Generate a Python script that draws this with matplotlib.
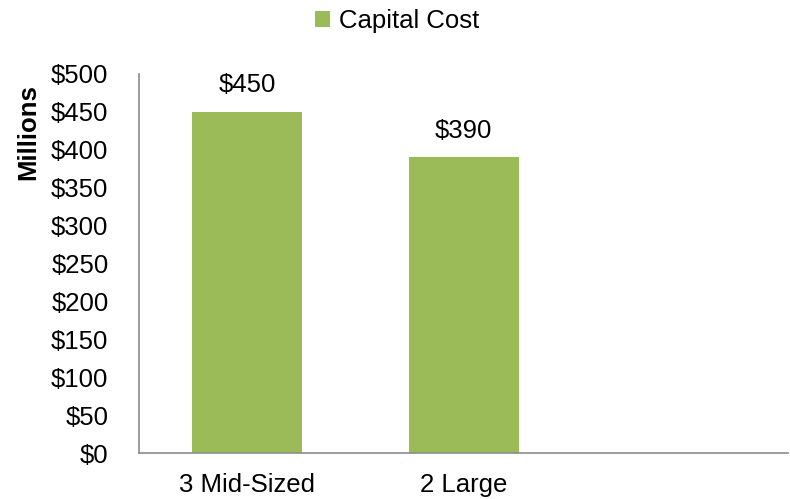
import matplotlib.pyplot as plt
import numpy as np

# Capital cost by configuration (millions of dollars); third slot is empty
categories = ['3 Mid-Sized', '2 Large', '']
capital_cost = [450, 390, np.nan]
yticks = [0, 50, 100, 150, 200, 250, 300, 350, 400, 450, 500]

plt.rcParams['font.family'] = ['Liberation Sans', 'DejaVu Sans']
FS = 18.5

fig = plt.figure(figsize=(7.9, 4.99), dpi=100)
ax = fig.add_axes([0.176, 0.092, 0.822, 0.760])

x = np.arange(len(categories))
bars = ax.bar(x, capital_cost, width=0.51, color='#9BBB59', label='Capital Cost')

for xi, v in zip(x, capital_cost):
    if np.isnan(v):
        continue
    ax.annotate(f'${v:.0f}', xy=(xi, v), xytext=(0, 19), textcoords='offset points',
                ha='center', va='center', fontsize=FS)

ax.set_xlim(-0.5, len(categories) - 0.5)
ax.set_ylim(0, 500)
ax.set_yticks(yticks)
ax.set_yticklabels([f'${t}' for t in yticks], fontsize=FS)
ax.set_xticks(x)
ax.set_xticklabels(categories, fontsize=FS)
ax.tick_params(axis='both', length=0)
ax.tick_params(axis='y', pad=22)
ax.tick_params(axis='x', pad=14.5)

for side in ['top', 'right']:
    ax.spines[side].set_visible(False)
for side in ['left', 'bottom']:
    ax.spines[side].set_color('#8c8c8c')
    ax.spines[side].set_linewidth(1.2)

fig.text(0.036, 0.735, 'Millions', rotation=90, ha='center', va='center',
         fontsize=FS, fontweight='bold')

fig.legend(handles=[bars], labels=['Capital Cost'], loc='center',
           bbox_to_anchor=(0.503, 0.958), frameon=False, fontsize=FS,
           handlelength=0.6, handleheight=0.6, handletextpad=0.35)

fig.savefig('out.png', dpi=100)
